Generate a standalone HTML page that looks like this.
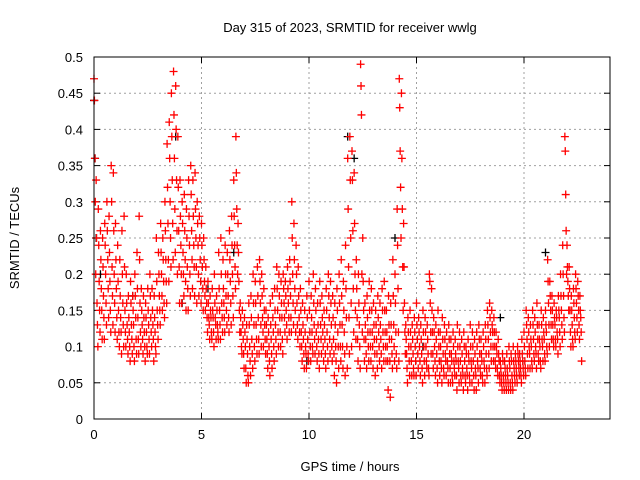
<!DOCTYPE html>
<html><head><meta charset="utf-8"><style>
body{margin:0;background:#fff}
svg{display:block;font-family:"Liberation Sans",sans-serif}
</style></head><body>
<svg id="chart" width="640" height="480" viewBox="0 0 640 480" xmlns="http://www.w3.org/2000/svg">
<rect width="640" height="480" fill="#fff"/>
<text x="350" y="32" font-size="13" text-anchor="middle">Day 315 of 2023, SRMTID for receiver wwlg</text>
<text x="350" y="471" font-size="13" text-anchor="middle">GPS time / hours</text>
<text transform="translate(19,238) rotate(-90)" font-size="13" text-anchor="middle">SRMTID / TECUs</text>
<g id="grid"></g>
<g id="ticks"></g>
<g id="marks"></g>
<rect x="94" y="57" width="516" height="362" fill="none" stroke="#000" stroke-width="1"/>
</svg>
<script>
const xTicks=[0,5,10,15,20];
const yTicks=[0,0.05,0.1,0.15,0.2,0.25,0.3,0.35,0.4,0.45,0.5];
const yTickLabels=["0","0.05","0.1","0.15","0.2","0.25","0.3","0.35","0.4","0.45","0.5"];
const readings=[
[0.0,.47,.44,.36,.30,.20],[0.1,.33,.25,.16,.13,.10],[0.2,.29,.24,.19,.15,.12],[0.3,.26,.22,.18,.15,.11],[0.4,.25,.21,.17,.14,.11],
[0.5,.27,.24,.20,.16,.13],[0.6,.30,.26,.22,.18,.14],[0.7,.28,.23,.19,.15,.12],[0.8,.35,.30,.21,.17,.13],[0.9,.34,.26,.20,.16,.12],
[1.0,.27,.22,.18,.14,.11],[1.1,.24,.19,.15,.12,.10],[1.2,.22,.17,.14,.12,.09],[1.3,.26,.20,.16,.13,.10],[1.4,.28,.21,.15,.12,.10],
[1.5,.20,.16,.13,.11,.09],[1.6,.17,.14,.12,.10,.08],[1.7,.19,.16,.13,.11,.09],[1.8,.17,.15,.13,.10,.08],[1.9,.20,.17,.14,.11,.09],
[2.0,.23,.18,.14,.11,.09],[2.1,.28,.22,.16,.12,.10],[2.2,.18,.15,.13,.11,.09],[2.3,.17,.14,.12,.10,.08],[2.4,.16,.14,.12,.10,.09],
[2.5,.18,.15,.13,.11,.09],[2.6,.20,.17,.14,.12,.10],[2.7,.18,.15,.13,.11,.08],[2.8,.17,.14,.12,.10,.09],[2.9,.25,.19,.15,.13,.11],
[3.0,.23,.20,.17,.15,.13],[3.1,.27,.23,.20,.17,.15],[3.2,.25,.22,.19,.16,.14],[3.3,.30,.26,.22,.19,.16],[3.4,.38,.32,.27,.22,.19],
[3.5,.41,.36,.30,.25,.21],[3.6,.45,.39,.33,.27,.22],[3.7,.48,.42,.36,.29,.23],[3.8,.46,.40,.33,.26,.20],[3.9,.39,.32,.26,.21,.16],
[4.0,.33,.28,.24,.20,.16],[4.1,.30,.27,.23,.20,.17],[4.2,.31,.26,.22,.19,.15],[4.3,.29,.25,.21,.18,.15],[4.4,.33,.28,.24,.20,.17],
[4.5,.35,.31,.26,.22,.18],[4.6,.33,.28,.24,.21,.17],[4.7,.34,.29,.25,.21,.16],[4.8,.30,.27,.24,.20,.17],[4.9,.28,.25,.22,.19,.16],
[5.0,.27,.24,.21,.18,.15],[5.1,.25,.22,.19,.17,.15],[5.2,.21,.18,.16,.14,.12],[5.3,.19,.16,.14,.13,.11],[5.4,.17,.15,.14,.12,.11],
[5.5,.18,.15,.14,.12,.10],[5.6,.20,.16,.14,.13,.11],[5.7,.17,.15,.13,.12,.11],[5.8,.23,.18,.15,.13,.11],[5.9,.25,.20,.16,.14,.12],
[6.0,.22,.18,.16,.14,.12],[6.1,.24,.20,.17,.15,.13],[6.2,.23,.20,.17,.14,.12],[6.3,.26,.22,.19,.16,.13],[6.4,.28,.24,.20,.17,.14],
[6.5,.33,.28,.24,.21,.18],[6.6,.39,.34,.29,.24,.20],[6.7,.27,.23,.19,.15,.12],[6.8,.16,.14,.12,.10,.09],[6.9,.15,.13,.11,.09,.07],
[7.0,.14,.12,.10,.07,.05],[7.1,.13,.11,.09,.06,.05],[7.2,.16,.13,.10,.08,.06],[7.3,.17,.14,.11,.09,.07],[7.4,.20,.16,.13,.10,.08],
[7.5,.19,.16,.13,.11,.09],[7.6,.21,.17,.14,.11,.09],[7.7,.22,.19,.16,.13,.10],[7.8,.20,.17,.14,.12,.10],[7.9,.18,.15,.13,.11,.09],
[8.0,.15,.13,.11,.09,.07],[8.1,.14,.12,.10,.08,.06],[8.2,.16,.13,.11,.09,.07],[8.3,.17,.14,.12,.10,.08],[8.4,.18,.15,.13,.11,.09],
[8.5,.21,.18,.15,.12,.10],[8.6,.20,.17,.14,.12,.10],[8.7,.19,.16,.14,.11,.09],[8.8,.20,.18,.16,.14,.12],[8.9,.19,.17,.15,.13,.11],
[9.0,.21,.18,.16,.14,.12],[9.1,.22,.19,.17,.14,.12],[9.2,.30,.25,.20,.16,.13],[9.3,.27,.22,.18,.15,.12],[9.4,.24,.20,.16,.13,.11],
[9.5,.21,.17,.14,.12,.10],[9.6,.18,.15,.12,.10,.08],[9.7,.16,.13,.11,.09,.07],[9.8,.15,.12,.10,.09,.07],[9.9,.17,.14,.11,.09,.08],
[10.0,.19,.15,.12,.10,.08],[10.1,.17,.14,.12,.10,.09],[10.2,.20,.16,.13,.11,.09],[10.3,.18,.15,.12,.10,.08],[10.4,.16,.13,.11,.09,.07],
[10.5,.19,.16,.13,.11,.09],[10.6,.17,.14,.12,.10,.08],[10.7,.15,.13,.11,.09,.07],[10.8,.18,.15,.12,.10,.08],[10.9,.20,.17,.14,.11,.09],
[11.0,.19,.16,.13,.10,.08],[11.1,.17,.14,.11,.09,.06],[11.2,.16,.13,.10,.08,.05],[11.3,.18,.15,.12,.10,.07],[11.4,.20,.16,.13,.10,.08],
[11.5,.22,.17,.13,.10,.07],[11.6,.19,.15,.12,.09,.06],[11.7,.24,.18,.14,.10,.07],[11.8,.36,.29,.21,.14,.09],[11.9,.39,.33,.25,.16,.10],
[12.0,.37,.33,.26,.18,.12],[12.1,.34,.27,.20,.15,.11],[12.2,.22,.18,.14,.11,.08],[12.3,.20,.16,.13,.10,.07],[12.4,.49,.46,.42,.20,.12],
[12.5,.25,.19,.15,.11,.08],[12.6,.16,.13,.11,.09,.07],[12.7,.17,.14,.12,.10,.08],[12.8,.19,.15,.12,.10,.08],[12.9,.18,.15,.12,.10,.07],
[13.0,.16,.13,.11,.09,.06],[13.1,.15,.13,.11,.09,.07],[13.2,.17,.14,.12,.10,.08],[13.3,.16,.13,.11,.09,.07],[13.4,.18,.15,.12,.10,.08],
[13.5,.19,.15,.12,.10,.08],[13.6,.15,.12,.10,.08,.04],[13.7,.17,.13,.11,.08,.03],[13.8,.16,.13,.11,.09,.07],[13.9,.22,.17,.13,.10,.08],
[14.0,.20,.16,.12,.09,.07],[14.1,.29,.24,.18,.12,.08],[14.2,.47,.43,.37,.32,.25],[14.3,.45,.36,.29,.21,.15],[14.4,.27,.21,.16,.12,.09],
[14.5,.13,.11,.09,.07,.05],[14.6,.14,.12,.10,.08,.06],[14.7,.15,.12,.10,.08,.06],[14.8,.13,.11,.09,.07,.06],[14.9,.14,.12,.10,.08,.06],
[15.0,.16,.13,.11,.09,.07],[15.1,.14,.12,.10,.08,.06],[15.2,.13,.11,.09,.07,.05],[15.3,.15,.12,.10,.08,.06],[15.4,.14,.12,.10,.08,.07],
[15.5,.13,.11,.09,.07,.06],[15.6,.20,.19,.16,.12,.09],[15.7,.18,.15,.12,.09,.07],[15.8,.14,.12,.10,.08,.06],[15.9,.13,.11,.09,.07,.05],
[16.0,.15,.12,.10,.08,.06],[16.1,.12,.10,.08,.07,.05],[16.2,.14,.11,.09,.07,.06],[16.3,.13,.11,.09,.08,.06],[16.4,.12,.10,.08,.07,.05],
[16.5,.13,.11,.09,.07,.05],[16.6,.11,.09,.08,.06,.05],[16.7,.12,.10,.08,.07,.06],[16.8,.11,.09,.08,.06,.04],[16.9,.13,.10,.08,.07,.05],
[17.0,.12,.10,.08,.06,.05],[17.1,.11,.09,.07,.06,.04],[17.2,.12,.10,.08,.06,.05],[17.3,.10,.09,.07,.06,.04],[17.4,.11,.09,.08,.06,.05],
[17.5,.13,.10,.08,.07,.05],[17.6,.12,.10,.08,.06,.04],[17.7,.11,.09,.07,.06,.04],[17.8,.12,.10,.08,.07,.05],[17.9,.13,.11,.09,.07,.06],
[18.0,.11,.09,.08,.06,.05],[18.1,.12,.10,.08,.07,.05],[18.2,.13,.11,.09,.07,.06],[18.3,.15,.13,.11,.09,.07],[18.4,.16,.14,.12,.10,.08],
[18.5,.15,.13,.12,.10,.08],[18.6,.14,.12,.10,.08,.07],[18.7,.12,.10,.09,.07,.06],[18.8,.11,.09,.08,.06,.05],[18.9,.08,.07,.06,.05,.04],
[19.0,.09,.08,.06,.05,.04],[19.1,.08,.07,.06,.05,.04],[19.2,.09,.07,.06,.05,.04],[19.3,.10,.08,.07,.05,.04],[19.4,.09,.08,.06,.05,.04],
[19.5,.10,.08,.07,.06,.05],[19.6,.09,.08,.07,.06,.05],[19.7,.10,.09,.08,.07,.06],[19.8,.09,.08,.07,.06,.05],[19.9,.11,.09,.08,.07,.06],
[20.0,.12,.10,.08,.07,.06],[20.1,.15,.13,.11,.09,.07],[20.2,.14,.12,.10,.09,.07],[20.3,.13,.11,.10,.08,.07],[20.4,.15,.13,.11,.09,.08],
[20.5,.14,.12,.10,.09,.07],[20.6,.16,.13,.11,.09,.08],[20.7,.13,.11,.10,.08,.07],[20.8,.15,.13,.11,.10,.08],[20.9,.14,.12,.11,.09,.08],
[21.0,.15,.13,.12,.10,.09],[21.1,.22,.19,.16,.13,.10],[21.2,.19,.17,.15,.13,.11],[21.3,.17,.15,.13,.11,.10],[21.4,.16,.14,.13,.11,.10],
[21.5,.15,.14,.12,.11,.09],[21.6,.17,.15,.14,.12,.10],[21.7,.20,.17,.15,.13,.11],[21.8,.24,.20,.17,.14,.12],[21.9,.39,.37,.31,.26,.20],
[22.0,.24,.21,.19,.17,.15],[22.1,.21,.18,.15,.12,.10],[22.2,.17,.15,.13,.11,.10],[22.3,.18,.16,.14,.12,.11],[22.4,.20,.18,.16,.14,.12],
[22.5,.19,.17,.15,.13,.11],[22.6,.17,.15,.14,.12,.08]
];
const blackHours=[0.0,0.05,0.1,0.3,1.8,3.8,4.1,5.3,6.5,9.9,11.8,12.1,14.0,15.3,18.9,21.0];
const blackValues=[0.44,0.36,0.25,0.20,0.17,0.39,0.16,0.18,0.23,0.08,0.39,0.36,0.25,0.10,0.14,0.23];

const NS="http://www.w3.org/2000/svg";
const X0=94,X1=610,Y0=419,Y1=57,XMAX=24,YMAX=0.5;
function xs(h){return X0+(h/XMAX)*(X1-X0);}
function ys(v){return Y0-(v/YMAX)*(Y0-Y1);}
const grid=document.getElementById('grid'),ticks=document.getElementById('ticks'),marks=document.getElementById('marks');
function mk(tag,attrs,parent){const e=document.createElementNS(NS,tag);for(const k in attrs)e.setAttribute(k,attrs[k]);parent.appendChild(e);return e;}
yTicks.forEach((v,i)=>{
  const y=ys(v);
  if(i>0&&i<yTicks.length-1){
    const g=mk('line',{x1:X0,x2:X1,y1:y,y2:y,stroke:'#a0a0a0','stroke-dasharray':'2,3'},grid);
    
    
  }
  mk('line',{x1:X0,x2:X0+6,y1:y,y2:y,stroke:'#000'},ticks);
  mk('line',{x1:X1,x2:X1-6,y1:y,y2:y,stroke:'#000'},ticks);
  const t=mk('text',{x:X0-11,y:y+5,'font-size':13,'text-anchor':'end'},ticks);
  t.textContent=yTickLabels[i];
  
  
});
xTicks.forEach(h=>{
  const x=xs(h);
  if(h>0){
    const g=mk('line',{x1:x,x2:x,y1:Y0,y2:Y1,stroke:'#a0a0a0','stroke-dasharray':'2,3'},grid);
    
    
  }
  mk('line',{x1:x,x2:x,y1:Y0,y2:Y0-6,stroke:'#000'},ticks);
  mk('line',{x1:x,x2:x,y1:Y1,y2:Y1+6,stroke:'#000'},ticks);
  const t=mk('text',{x:x,y:Y0+20,'font-size':13,'text-anchor':'middle'},ticks);
  t.textContent=String(h);
  
  
});
function plus(h,v,color){
  const x=xs(h),y=ys(v);
  const p=mk('path',{d:`M${x-4},${y}H${x+4}M${x},${y-4}V${y+4}`,stroke:color,'stroke-width':1.3,fill:'none'},marks);
  
  
}
blackHours.forEach((h,i)=>plus(h,blackValues[i],'#000'));
readings.forEach(r=>{
  for(let k=1;k<r.length;k++){plus(r[0]+(k-1)*0.02,r[k],'#f00');}
});
</script>
</body></html>
